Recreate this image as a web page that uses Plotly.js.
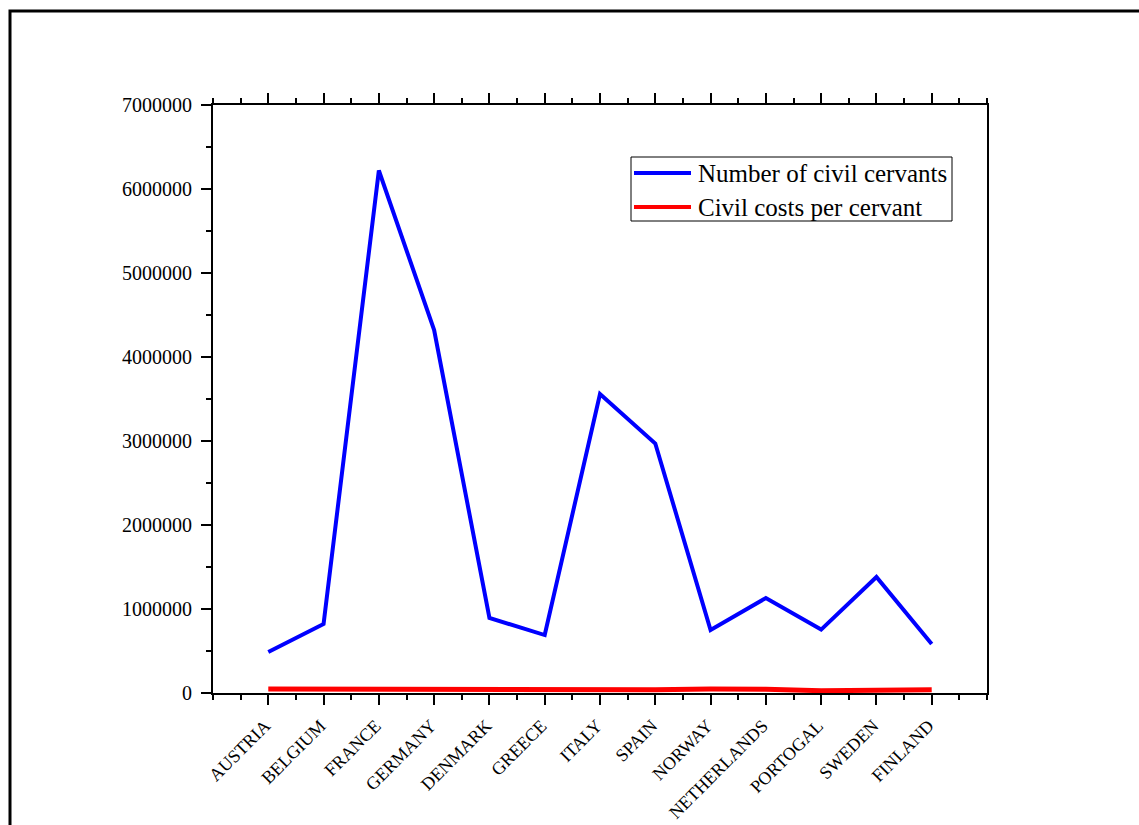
<!DOCTYPE html>
<html>
<head>
<meta charset="utf-8">
<script src="https://cdn.plot.ly/plotly-3.0.1.min.js"></script>
<style>html,body{margin:0;padding:0;background:#fff;}#chart{width:1139px;height:825px;}</style>
</head>
<body>
<div id="chart"></div>
<script>
const countries = ["AUSTRIA","BELGIUM","FRANCE","GERMANY","DENMARK","GREECE","ITALY","SPAIN","NORWAY","NETHERLANDS","PORTOGAL","SWEDEN","FINLAND"];
const civilServants = [488000, 821000, 6220000, 4320000, 893000, 690000, 3560000, 2970000, 750000, 1131000, 755000, 1381000, 583000];
const costsPerServant = [48000, 45000, 42000, 41000, 42000, 41000, 43000, 40000, 47000, 46000, 27000, 31000, 38000];
const seriesNames = ["Number of civil cervants", "Civil costs per cervant"];
const seriesColors = ["#0000ff", "#ff0000"];

const idx = countries.map((c, i) => i);
const font = "Liberation Serif, Times New Roman, serif";
const NB = "\u00a0";

const traces = [
  {x: idx, y: civilServants, type: "scatter", mode: "lines", name: seriesNames[0],
   line: {color: seriesColors[0], width: 4}},
  {x: idx, y: costsPerServant, type: "scatter", mode: "lines", name: seriesNames[1],
   line: {color: seriesColors[1], width: 5}}
];

// pixel -> paper helpers for the frame and hand-made legend box
const PL = 213, PW = 774, PB = 693, PH = 588;
const px = v => (v - PL) / PW;
const py = v => (PB - v) / PH;

const legendRows = [173, 207];
const shapes = [
  {type: "rect", xref: "paper", yref: "paper",
   x0: px(10), x1: px(1160), y0: py(850), y1: py(11),
   line: {color: "#000", width: 3}, fillcolor: "rgba(0,0,0,0)", layer: "below"},
  {type: "rect", xref: "paper", yref: "paper",
   x0: px(631), x1: px(952), y0: py(221), y1: py(157),
   line: {color: "#000", width: 1}, fillcolor: "#fff", layer: "above"}
];
const annotations = [];
seriesNames.forEach((name, i) => {
  shapes.push({type: "line", xref: "paper", yref: "paper",
    x0: px(634), x1: px(691), y0: py(legendRows[i]), y1: py(legendRows[i]),
    line: {color: seriesColors[i], width: 4}, layer: "above"});
  annotations.push({xref: "paper", yref: "paper", x: px(696), y: py(legendRows[i]),
    xanchor: "left", yanchor: "middle", text: name, showarrow: false,
    font: {family: font, size: 25, color: "#000"}});
});

const layout = {
  width: 1139, height: 825,
  margin: {l: 213, r: 152, t: 105, b: 132},
  paper_bgcolor: "#fff", plot_bgcolor: "#fff",
  font: {family: font, color: "#000"},
  showlegend: false,
  xaxis: {
    range: [-1, 13], tickmode: "array", tickvals: idx, ticktext: countries.map(c => c + NB),
    tickangle: -45, tickfont: {family: font, size: 18},
    showgrid: false, zeroline: false, showline: true, linecolor: "#000", linewidth: 2,
    ticks: "outside", ticklen: 10, tickwidth: 2, tickcolor: "#000", mirror: "ticks",
    minor: {dtick: 0.5, tick0: -1, ticks: "outside", ticklen: 5, tickwidth: 2, tickcolor: "#000", showgrid: false}
  },
  yaxis: {
    range: [0, 7000000], tickmode: "linear", tick0: 0, dtick: 1000000,
    tickformat: "d", ticksuffix: NB, tickfont: {family: font, size: 20},
    showgrid: false, zeroline: false, showline: true, linecolor: "#000", linewidth: 2,
    ticks: "outside", ticklen: 10, tickwidth: 2, tickcolor: "#000", mirror: true,
    minor: {dtick: 500000, ticks: "outside", ticklen: 5, tickwidth: 2, tickcolor: "#000", showgrid: false}
  },
  shapes: shapes,
  annotations: annotations
};

Plotly.newPlot("chart", traces, layout, {displayModeBar: false, staticPlot: true});
</script>
</body>
</html>
